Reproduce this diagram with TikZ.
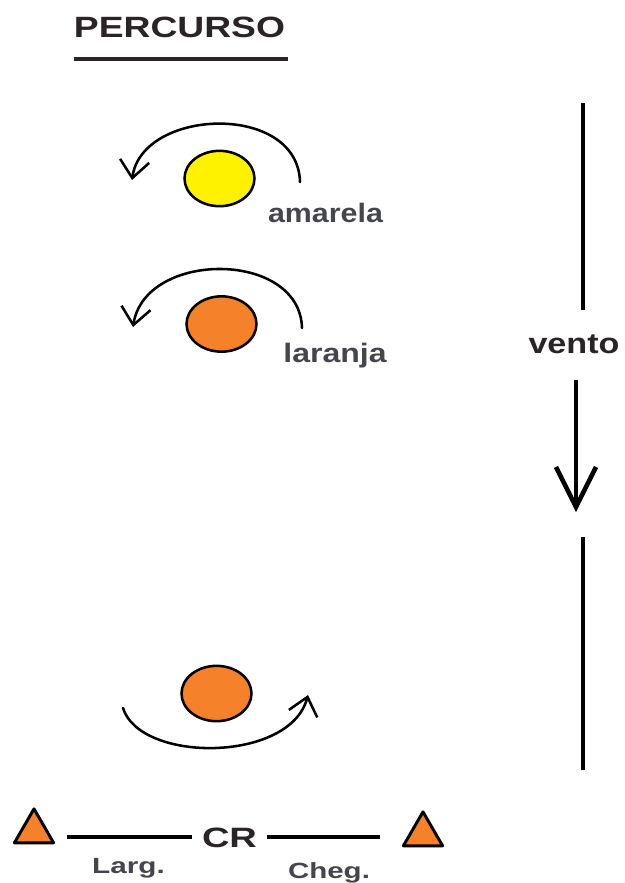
\documentclass[tikz,border=0pt]{standalone}
\usepackage{fontspec}
\setmainfont{Liberation Sans}
\usetikzlibrary{arrows.meta,shapes.geometric}
\definecolor{ballyellow}{HTML}{FFF200}
\definecolor{ballorange}{HTML}{F5822A}
\definecolor{labelgray}{HTML}{45454E}
\definecolor{titlecol}{HTML}{2A2426}
\begin{document}
\begin{tikzpicture}[x=0.75pt,y=-0.75pt,
  ball/.style={ellipse, draw=black, line width=1.9pt, minimum width=52.5pt, minimum height=41.5pt, inner sep=0pt},
  turn/.style={line width=1.9pt, line cap=round, -{Straight Barb[length=13pt,width=22pt,line width=1.9pt]}},
  heavy/.style={line width=3.4pt},
  windarrow/.style={line width=3.4pt, -{Straight Barb[length=30pt,width=30pt,line width=3.4pt]}},
  lbl/.style={inner sep=0pt, anchor=base, text=labelgray, font=\bfseries},
  mark3/.style={regular polygon, regular polygon sides=3, draw=black, fill=ballorange, line width=2.2pt, line join=round, minimum size=34pt, inner sep=0pt}
]
\useasboundingbox (0,0) rectangle (625,883);
\fill[white] (0,0) rectangle (625,883);

% title
\node[inner sep=0pt, anchor=base, text=titlecol, xscale=1.27, font=\bfseries\fontsize{22}{26}\selectfont] (title) at (179.5,37) {PERCURSO};
\coordinate (ulA) at (74,59);
\coordinate (ulB) at (288,59);
\draw[line width=3pt, titlecol] (ulA) -- (ulB);

% balls
\node[ball, fill=ballyellow] (amar) at (219.5,178.5) {};
\node[ball, fill=ballorange] (lar) at (221.5,324) {};
\node[ball, fill=ballorange] (low) at (216.5,693.5) {};

% rotation arrows
\coordinate (a1s) at (300,182);
\coordinate (a1e) at (132,180);
\draw[turn] (a1s) .. controls (298,102) and (142,108) .. (a1e);
\coordinate (a2s) at (302,328);
\coordinate (a2e) at (133,327);
\draw[turn] (a2s) .. controls (300,250) and (145,250) .. (a2e);
\coordinate (a3s) at (123,708);
\coordinate (a3e) at (308,695);
\draw[turn] (a3s) .. controls (140,763) and (290,763) .. (a3e);

% labels
\node[lbl, xscale=1.14, font=\bfseries\fontsize{20}{24}\selectfont] (amartxt) at (325.5,222) {amarela};
\node[lbl, xscale=1.2, font=\bfseries\fontsize{20}{24}\selectfont] (lartxt) at (335,362) {laranja};

% wind
\node[inner sep=0pt, anchor=base, text=titlecol, xscale=1.19, font=\bfseries\fontsize{21.5}{26}\selectfont] (vento) at (574,353) {vento};
\coordinate (w1) at (583,103);
\coordinate (w2) at (583,310);
\coordinate (w3) at (576,380);
\coordinate (w4) at (576,512);
\coordinate (w5) at (583,537);
\coordinate (w6) at (583,770);
\draw[heavy] (w1) -- (w2);
\draw[windarrow] (w3) -- (w4);
\draw[heavy] (w5) -- (w6);

% start / finish line
\node[mark3] (larg) at (34,831.5) {};
\node[mark3] (cheg) at (423,834.5) {};
\node[inner sep=0pt, anchor=base, text=titlecol, xscale=1.36, font=\bfseries\fontsize{21}{25}\selectfont] (cr) at (229.5,847) {CR};
\coordinate (crW) at (192,837);
\coordinate (crE) at (267,837);
\coordinate (lA) at (67,837);
\coordinate (lB) at (380,837);
\draw[heavy] (lA) -- (crW);
\draw[heavy] (crE) -- (lB);
\node[lbl, xscale=1.35, font=\bfseries\fontsize{16.5}{20}\selectfont] (largtxt) at (128.5,873) {Larg.};
\node[lbl, xscale=1.34, font=\bfseries\fontsize{16.5}{20}\selectfont] (chegtxt) at (329,878) {Cheg.};
\end{tikzpicture}
\end{document}
